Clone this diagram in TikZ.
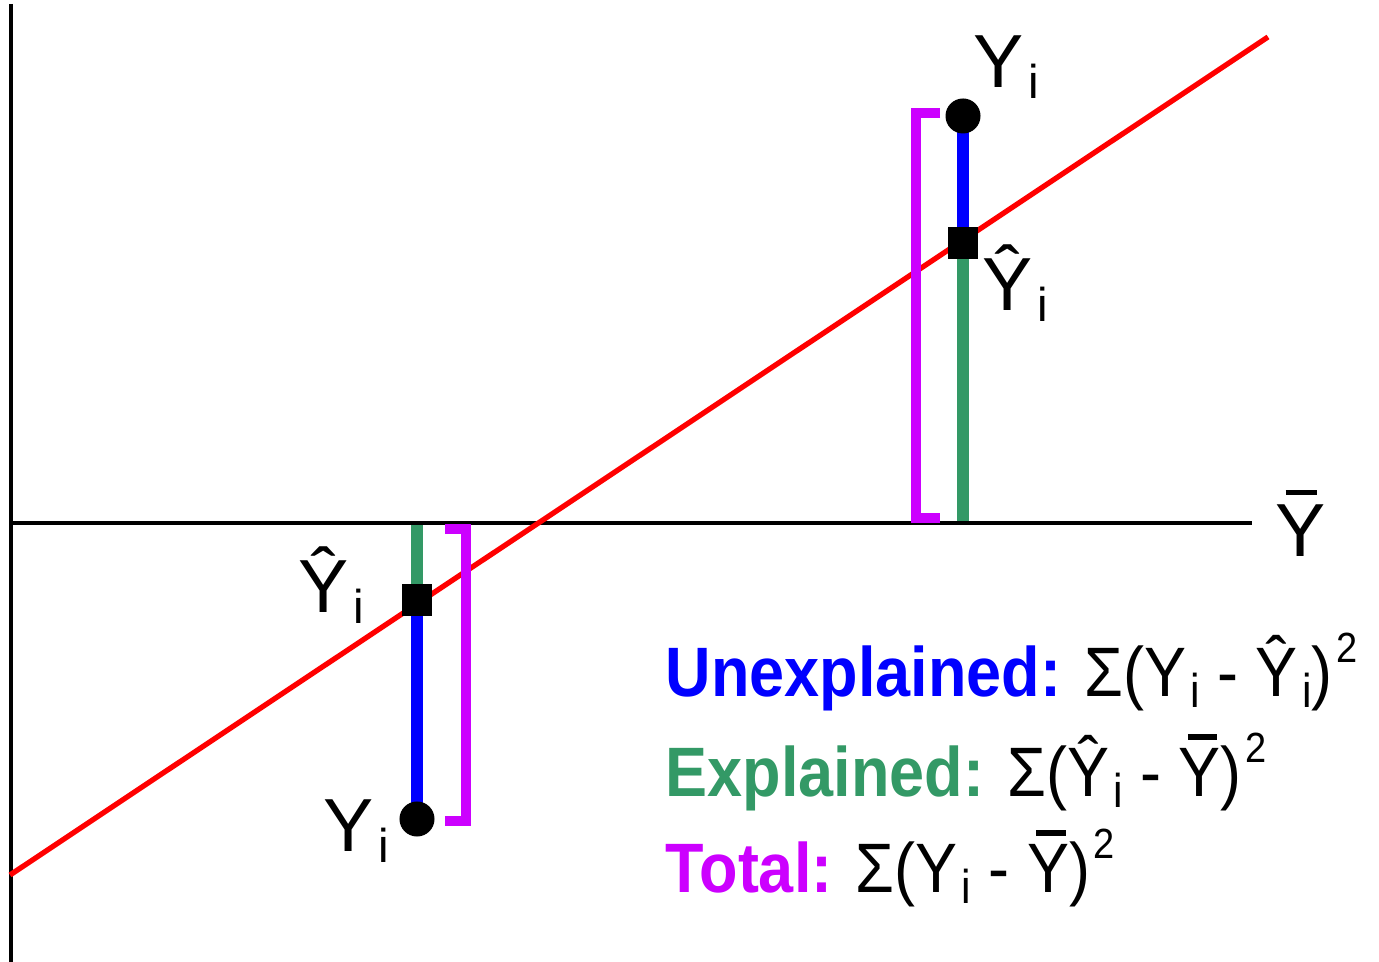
\documentclass[tikz,border=0pt]{standalone}
\usepackage{fontspec}
\setmainfont{Liberation Sans}
\newfontfamily\keyfont[FakeStretch=0.9]{Liberation Sans}
\usetikzlibrary{backgrounds}
\definecolor{resid}{RGB}{0,0,255}
\definecolor{expl}{RGB}{51,153,102}
\definecolor{tot}{RGB}{204,0,255}
\newcommand\lblsize{\fontsize{21.4}{24}\selectfont}
\newcommand\sbi{\kern1.2pt\raisebox{-3pt}{\fontsize{13.5}{14}\selectfont i}}
\newcommand\sqr{\kern1pt\raisebox{0.5em}{\fontsize{12}{12}\selectfont 2}}
\newcommand\ybar{\leavevmode\rlap{\kern0.13em\raisebox{0.82em}{\rule{0.42em}{0.075em}}}Y}

\begin{document}
\begin{tikzpicture}[x=0.01cm,y=-0.01cm,
  obs/.style={circle,fill=black,inner sep=0pt,minimum size=0.35cm},
  fit/.style={rectangle,fill=black,inner sep=0pt,minimum width=0.30cm,minimum height=0.32cm},
  seg/.style={line width=3.4pt},
  bracket/.style={tot,line width=3pt},
  lbl/.style={font=\lblsize,inner sep=0pt,anchor=base west},
  key/.style={font=\keyfont\fontsize{19.9}{22}\selectfont,inner sep=0pt,anchor=base west}]
  \useasboundingbox (0,0) rectangle (1379,962);
  % axes and mean line
  \draw[line width=1.2pt] (11,4) -- (11,962);
  \draw[line width=1.2pt] (11,523) -- (1252,523);
  \node[lbl] (ymean) at (1275,557) {\ybar};
  % regression line
  \draw[red,line width=1.5pt] (10,875) -- (1268,37);
  % total deviation brackets
  \draw[bracket] (940,113) -- (916,113) -- (916,518) -- (940,518);
  \draw[bracket] (445,529) -- (466,529) -- (466,821) -- (445,821);
  % upper point
  \node[obs] (yhi) at (963,116) {};
  \node[fit] (fhi) at (963,243) {};
  \coordinate (foothi) at (963,523);
  % lower point
  \node[obs] (ylo) at (417,819) {};
  \node[fit] (flo) at (417,600) {};
  \coordinate (footlo) at (417,523);
  \begin{scope}[on background layer]
    \draw[resid,seg] (yhi.center) -- (fhi.center);
    \draw[expl,seg] (fhi.center) -- (foothi);
    \draw[resid,seg] (ylo.center) -- (flo.center);
    \draw[expl,seg] (flo.center) -- (footlo);
  \end{scope}
  \node[lbl] (yhilbl) at (973,88) {Y\sbi};
  \node[lbl] (fhilbl) at (982,311) {\^Y\sbi};
  \node[lbl] (flolbl) at (298,613) {\^Y\sbi};
  \node[lbl] (ylolbl) at (323,852) {Y\sbi};
  % legend
  \node[key] (unexpl) at (665,697) {\textcolor{resid}{\bfseries Unexplained:}\hspace{0.33em}Σ(Y\sbi\ - \^Y\sbi)\sqr};
  \node[key] (explnd) at (665,797) {\textcolor{expl}{\bfseries Explained:}\hspace{0.33em}Σ(\^Y\sbi\ - \ybar)\sqr};
  \node[key] (total) at (665,893) {\textcolor{tot}{\bfseries Total:}\hspace{0.33em}Σ(Y\sbi\ - \ybar)\sqr};
\end{tikzpicture}
\end{document}
